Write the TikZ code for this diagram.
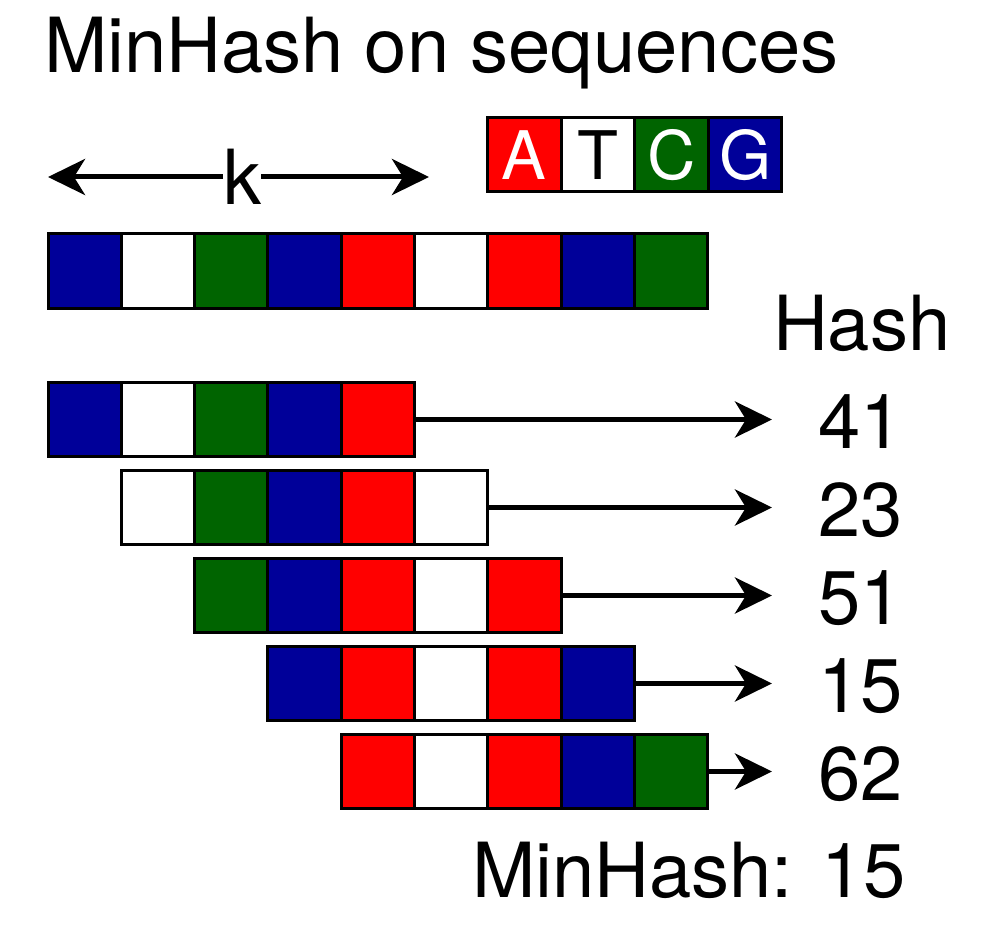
\documentclass[tikz,border=0pt]{standalone}
\usepackage{fontspec}
\setmainfont{TeX Gyre Heros}
\usetikzlibrary{arrows.meta}
\definecolor{dnaA}{HTML}{FF0000}
\definecolor{dnaT}{HTML}{FFFFFF}
\definecolor{dnaC}{HTML}{006400}
\definecolor{dnaG}{HTML}{000099}
\begin{document}
\begin{tikzpicture}[x=1pt,y=-1pt,
  cell/.style={draw=black, line width=3pt, minimum width=73.33pt, minimum height=74pt, inner sep=0pt, outer sep=0pt},
  big/.style={font=\fontsize{76}{90}\selectfont, inner sep=0pt, outer sep=0pt},
  arr/.style={line width=5pt, -{Stealth[length=37pt,width=36pt,inset=11pt]}},
]
\useasboundingbox (0,0) rectangle (1001,933);
% title
\node[big, anchor=base west] (title) at (44,73) {MinHash on sequences};
% k arrow
\node[big, anchor=base] (k) at (242,205) {k};
\coordinate (kl) at (48,177);
\coordinate (kr) at (429,177);
\draw[arr] (kl -| k.west) -- (kl);
\draw[arr] (kr -| k.east) -- (kr);
% legend
\foreach \c/\tc [count=\j] in {A/white,T/black,C/white,G/white}
  \node[cell, minimum width=73.6pt, fill=dna\c, text=\tc, font=\fontsize{67}{80}\selectfont] (l\c) at ({487.5+73.6*(\j-0.5)},155) {\c};
% main sequence
\foreach \c [count=\i] in {G,T,C,G,A,T,A,G,C}
  \node[cell, fill=dna\c] (m\i) at ({48+73.33*(\i-0.5)},271) {};
% hash header
\node[big, anchor=base west] (hash) at (773,350) {Hash};
% k-mers
\foreach \r/\seq/\v in {1/{G,T,C,G,A}/41, 2/{T,C,G,A,T}/23, 3/{C,G,A,T,A}/51, 4/{G,A,T,A,G}/15, 5/{A,T,A,G,C}/62} {
  \foreach \c [count=\j] in \seq
    \node[cell, fill=dna\c] (r\r-\j) at ({48+73.33*(\r+\j-1.5)},{419.5+88*(\r-1)}) {};
  \coordinate (h\r) at (772,{419.5+88*(\r-1)});
  \draw[arr] (r\r-5.east) -- (h\r);
  \node[big, anchor=base west] (n\r) at (818,{448+88*(\r-1)}) {\v};
}
% result
\node[big, anchor=base west] (minhash) at (472,897) {MinHash: 15};
\end{tikzpicture}
\end{document}
